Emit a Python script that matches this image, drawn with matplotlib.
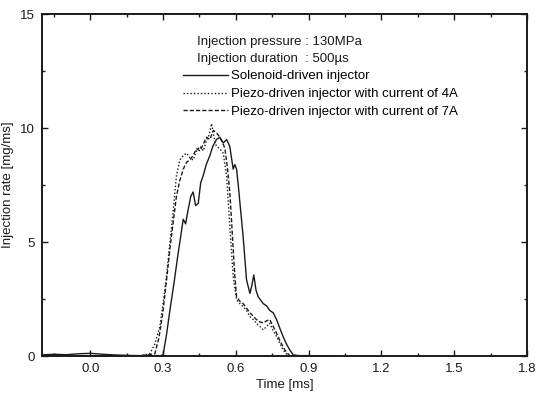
import matplotlib
matplotlib.use("Agg")
import matplotlib.pyplot as plt
from matplotlib.ticker import MultipleLocator, FormatStrFormatter

# Solenoid-driven injector (solid)
t_sol = [-0.20, -0.15, -0.10, -0.05, 0.00, 0.05, 0.10, 0.15, 0.20, 0.25, 0.29, 0.30,
         0.315, 0.328, 0.345, 0.362, 0.372, 0.383, 0.393, 0.403, 0.414, 0.424, 0.434,
         0.445, 0.455, 0.465, 0.478, 0.493, 0.505, 0.520, 0.534, 0.548, 0.562, 0.575,
         0.582, 0.589, 0.596, 0.603, 0.610, 0.617, 0.630, 0.644, 0.658, 0.666, 0.674,
         0.683, 0.692, 0.713, 0.727, 0.740, 0.754, 0.768, 0.782, 0.795, 0.810, 0.823,
         0.837, 0.86, 0.90, 1.00]
r_sol = [0.05, 0.08, 0.06, 0.10, 0.12, 0.08, 0.05, 0.03, 0.02, 0.02, 0.02, 0.05,
         1.0, 2.0, 3.2, 4.5, 5.2, 6.0, 5.8, 6.4, 7.0, 7.2, 6.6,
         6.7, 7.6, 7.9, 8.4, 8.8, 9.2, 9.5, 9.6, 9.35, 9.5, 9.2,
         8.7, 8.2, 8.4, 8.2, 7.5, 6.7, 5.25, 3.35, 2.75, 3.1, 3.56,
         2.9, 2.6, 2.3, 2.2, 2.0, 1.9, 1.6, 1.2, 0.85, 0.5, 0.26,
         0.05, 0.02, 0.02, 0.0]

# Piezo-driven injector, 4A (dotted)
t_p4 = [-0.20, 0.00, 0.20, 0.245, 0.265, 0.287, 0.300, 0.314, 0.328, 0.342, 0.355,
        0.369, 0.383, 0.397, 0.410, 0.424, 0.438, 0.452, 0.466, 0.480, 0.490, 0.500,
        0.510, 0.520, 0.534, 0.548, 0.562, 0.575, 0.589, 0.603, 0.617, 0.630, 0.644,
        0.658, 0.672, 0.685, 0.699, 0.713, 0.727, 0.740, 0.754, 0.768, 0.782, 0.795,
        0.816, 0.85, 1.00]
r_p4 = [0.0, 0.0, 0.0, 0.1, 0.5, 1.3, 2.3, 3.5, 4.95, 6.4, 7.9,
        8.6, 8.8, 8.9, 8.7, 8.6, 9.0, 9.2, 9.0, 9.5, 9.7, 10.2,
        9.6, 9.2, 9.1, 8.9, 7.9, 5.7, 3.5, 2.46, 2.3, 2.17, 2.0,
        1.73, 1.6, 1.44, 1.3, 1.15, 1.3, 1.44, 1.1, 0.85, 0.55, 0.27,
        0.0, 0.0, 0.0]

# Piezo-driven injector, 7A (dashed)
t_p7 = [-0.20, 0.00, 0.20, 0.266, 0.283, 0.300, 0.314, 0.328, 0.342, 0.355, 0.369,
        0.383, 0.397, 0.410, 0.424, 0.438, 0.452, 0.466, 0.479, 0.493, 0.507, 0.520,
        0.534, 0.548, 0.555, 0.565, 0.575, 0.582, 0.589, 0.596, 0.603, 0.617, 0.630,
        0.644, 0.658, 0.672, 0.685, 0.699, 0.713, 0.727, 0.740, 0.754, 0.768, 0.785,
        0.802, 0.823, 0.85, 1.00]
r_p7 = [0.0, 0.0, 0.0, 0.1, 0.8, 2.0, 3.3, 4.7, 5.9, 7.0, 7.7,
        8.2, 8.5, 8.6, 8.8, 9.1, 9.0, 9.3, 9.6, 9.5, 9.9, 9.8,
        9.6, 9.3, 9.1, 8.3, 7.2, 6.0, 4.7, 3.5, 2.6, 2.4, 2.3,
        2.1, 1.9, 1.75, 1.6, 1.5, 1.45, 1.55, 1.6, 1.3, 1.0, 0.6,
        0.27, 0.0, 0.0, 0.0]

labels = ["Solenoid-driven injector",
          "Piezo-driven injector with current of 4A",
          "Piezo-driven injector with current of 7A"]
header = ["Injection pressure : 130MPa", "Injection duration  : 500\u00b5s"]
xticks = [0.0, 0.3, 0.6, 0.9, 1.2, 1.5, 1.8]
yticks = [0, 5, 10, 15]

plt.rcParams['font.family'] = ['Liberation Sans', 'DejaVu Sans']
fig = plt.figure(figsize=(5.36, 3.93), dpi=100)
ax = fig.add_axes([0.078, 0.094, 0.905, 0.870])

col = "#1a1a1a"
ax.plot(t_sol, r_sol, color=col, lw=1.0, ls="-", label=labels[0])
ax.plot(t_p4, r_p4, color=col, lw=1.0, ls=(0, (1, 1.5)), label=labels[1])
ax.plot(t_p7, r_p7, color=col, lw=1.0, ls=(0, (3, 1.5)), label=labels[2])

ax.set_xlim(-0.2, 1.8)
ax.set_ylim(0, 15)
ax.set_xticks(xticks)
ax.set_yticks(yticks)
ax.xaxis.set_major_formatter(FormatStrFormatter("%.1f"))
ax.yaxis.set_major_formatter(FormatStrFormatter("%d"))
ax.xaxis.set_minor_locator(MultipleLocator(0.15))
ax.yaxis.set_minor_locator(MultipleLocator(2.5))
ax.tick_params(which="both", direction="in", top=True, right=True,
               labelsize=9.5, colors=col, width=1.0, pad=5)
ax.tick_params(which="major", length=4)
ax.tick_params(which="minor", length=2)
for s in ax.spines.values():
    s.set_linewidth(1.4)
    s.set_color(col)

ax.set_xlabel("Time [ms]", fontsize=9.5, labelpad=3, color=col)
ax.set_ylabel("Injection rate [mg/ms]", fontsize=9.5, labelpad=4, color=col)

ax.text(0.320, 0.919, header[0], transform=ax.transAxes, fontsize=9.5,
        va="center", ha="left", color=col)
ax.text(0.320, 0.870, header[1], transform=ax.transAxes, fontsize=9.5,
        va="center", ha="left", color=col)
leg = ax.legend(loc="upper left", bbox_to_anchor=(0.291, 0.836), frameon=False,
                fontsize=9.5, handlelength=3.4, handletextpad=0.25,
                labelspacing=0.42, borderaxespad=0, borderpad=0)

fig.savefig("out.png", dpi=100)
